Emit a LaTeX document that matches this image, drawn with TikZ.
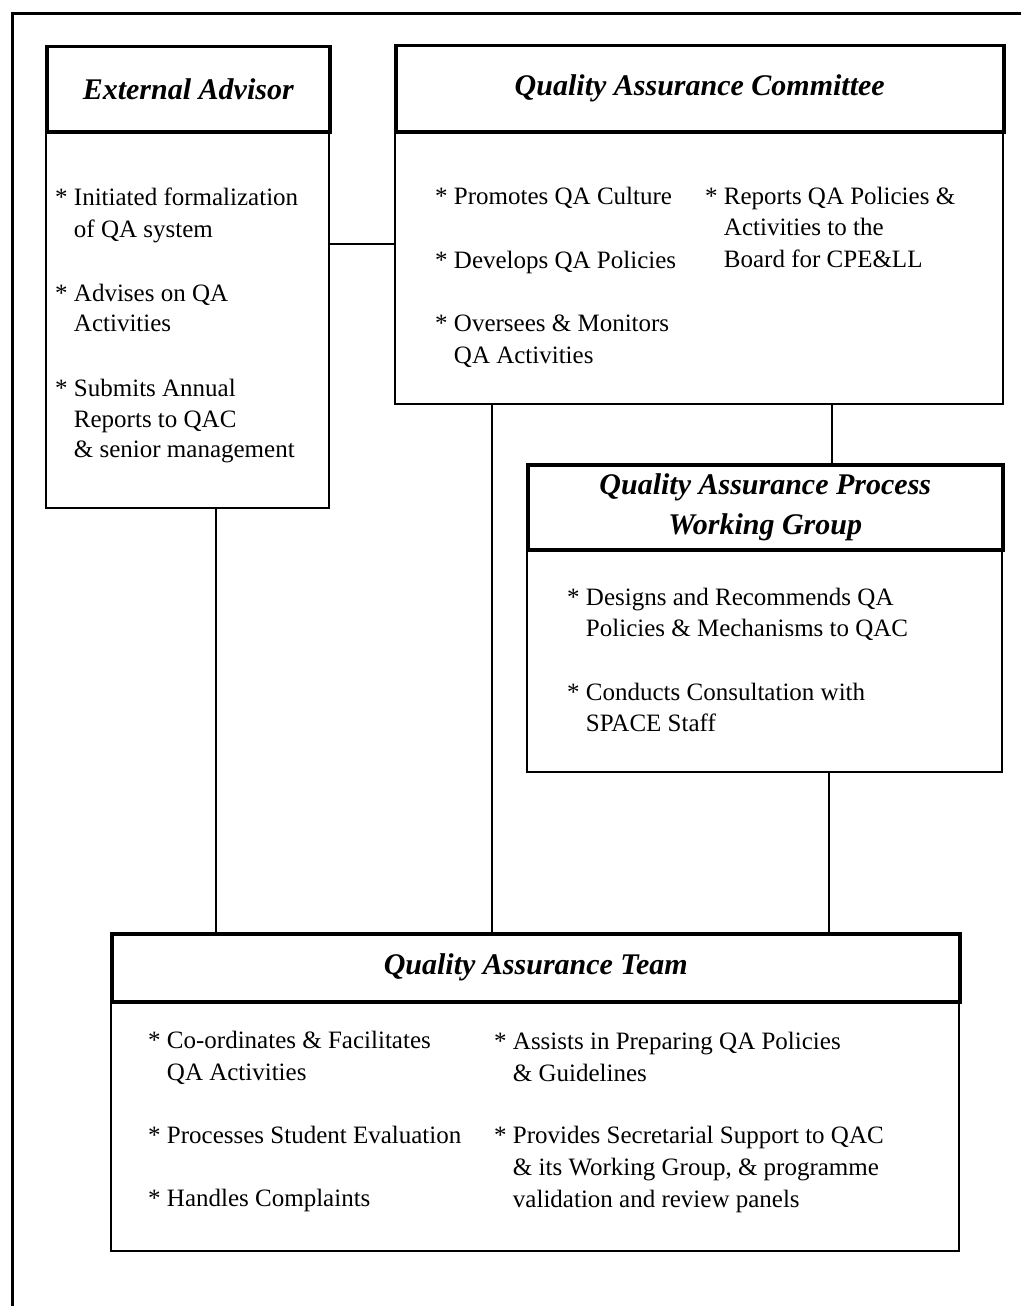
\documentclass[tikz,border=0pt]{standalone}
\usepackage{fontspec}
\setmainfont{Liberation Serif}
\begin{document}
\begin{tikzpicture}[x=1pt,y=-1pt,
  head/.style={draw,line width=3.5pt,anchor=north west,inner sep=0pt,
    font=\fontsize{30}{40}\selectfont\bfseries\itshape,align=center},
  body/.style={draw,line width=2pt,anchor=north west,inner sep=0pt},
  item/.style={anchor=base west,inner sep=0pt,font=\fontsize{25}{32}\selectfont},
  link/.style={line width=2pt},
  frame/.style={line width=3pt}]
\useasboundingbox (0,0) rectangle (1020,1306);
\newcommand{\cont}{\hphantom{* }}

% open outer frame
\draw[frame] (12,1310) -- (12,14) -- (1024,14);

% External Advisor
\node[body,minimum width=283,minimum height=377] (eaBody) at (45,130) {};
\node[head,minimum width=283,minimum height=85] (eaHead) at (45,45) {External Advisor};
\foreach \y/\t [count=\i] in {205/{* Initiated formalization},237/{\cont of QA system},
    301/{* Advises on QA},331/{\cont Activities},
    396/{* Submits Annual},427/{\cont Reports to QAC},457/{\cont \& senior management}}
  \node[item] (ea\i) at (55,\y) {\t};

% Quality Assurance Committee
\node[body,minimum width=608,minimum height=273] (qacBody) at (394,130) {};
\node[head,minimum width=608,minimum height=86] (qacHead) at (394,44) {Quality Assurance Committee};
\foreach \y/\t [count=\i] in {204/{* Promotes QA Culture},268/{* Develops QA Policies},
    331/{* Oversees \& Monitors},363/{\cont QA Activities}}
  \node[item] (qacL\i) at (435,\y) {\t};
\foreach \y/\t [count=\i] in {204/{* Reports QA Policies \&},235/{\cont Activities to the},
    267/{\cont Board for CPE\&LL}}
  \node[item] (qacR\i) at (705,\y) {\t};

% Quality Assurance Process Working Group
\node[body,minimum width=475,minimum height=223] (wgBody) at (526,548) {};
\node[head,minimum width=475,minimum height=85] (wgHead) at (526,463) {Quality Assurance Process\\Working Group};
\foreach \y/\t [count=\i] in {605/{* Designs and Recommends QA},636/{\cont Policies \& Mechanisms to QAC},
    700/{* Conducts Consultation with},731/{\cont SPACE Staff}}
  \node[item] (wg\i) at (567,\y) {\t};

% Quality Assurance Team
\node[body,minimum width=848,minimum height=250] (qatBody) at (110,1000) {};
\node[head,minimum width=848,minimum height=68] (qatHead) at (110,932) {Quality Assurance Team};
\foreach \y/\t [count=\i] in {1048/{* Co-ordinates \& Facilitates},1080/{\cont QA Activities},
    1143/{* Processes Student Evaluation},1206/{* Handles Complaints}}
  \node[item] (qatL\i) at (148,\y) {\t};
\foreach \y/\t [count=\i] in {1049/{* Assists in Preparing QA Policies},1081/{\cont \& Guidelines},
    1143/{* Provides Secretarial Support to QAC},1175/{\cont \& its Working Group, \& programme},
    1207/{\cont validation and review panels}}
  \node[item] (qatR\i) at (494,\y) {\t};

% connectors
\coordinate (rowEA) at (0,244);
\coordinate (colEA) at (216,0);
\coordinate (colQAC) at (492,0);
\coordinate (colWG) at (832,0);
\coordinate (colWGdown) at (829,0);
\draw[link] (eaBody.east |- rowEA) -- (qacBody.west |- rowEA);
\draw[link] (eaBody.south -| colEA) -- (qatHead.north -| colEA);
\draw[link] (qacBody.south -| colQAC) -- (qatHead.north -| colQAC);
\draw[link] (qacBody.south -| colWG) -- (wgHead.north -| colWG);
\draw[link] (wgBody.south -| colWGdown) -- (qatHead.north -| colWGdown);
\end{tikzpicture}
\end{document}
